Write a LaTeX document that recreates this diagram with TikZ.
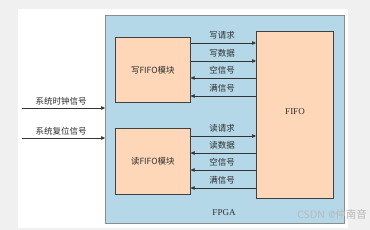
\documentclass[tikz,border=0pt]{standalone}
\usepackage{fontspec}
\setmainfont{Liberation Serif}
\newfontfamily\cjk{Noto Sans CJK SC}
\usetikzlibrary{arrows.meta}
\definecolor{fpgablue}{HTML}{B4D8E7}
\definecolor{peach}{HTML}{FDD7B8}
\definecolor{txt}{HTML}{2E2E2E}
\tikzset{
  blk/.style={draw=black!75, line width=0.6pt, fill=peach},
  sig/.style={draw=black!80, line width=0.6pt, -{Triangle[length=4pt,width=3.5pt]}},
  lbl/.style={text=txt, font=\cjk\fontsize{8.5}{9}\selectfont, inner sep=0pt},
}
\begin{document}
\begin{tikzpicture}[x=1pt,y=-1pt]
\useasboundingbox (0,0) rectangle (370,230);
\fill[black!6] (0,0) rectangle (370,230);
\fill[white] (18,9) rectangle (348,228);
\node[draw=black!45, line width=0.6pt, fill=fpgablue, minimum width=239pt, minimum height=208pt, anchor=north west, inner sep=0pt] (fpga) at (105,15) {};
\node[blk, minimum width=75pt, minimum height=65pt, anchor=north west, inner sep=0pt] (wr) at (115,37) {};
\node[lbl] at (wr.center) {写FIFO模块};
\node[blk, minimum width=75pt, minimum height=66pt, anchor=north west, inner sep=0pt] (rd) at (115,128) {};
\node[lbl] at (rd.center) {读FIFO模块};
\node[blk, minimum width=77pt, minimum height=167pt, anchor=north west, inner sep=0pt] (fifo) at (256,31) {};
\node[lbl, font=\fontsize{9}{10}\selectfont] at (295,112) {FIFO};
\node[lbl, font=\fontsize{9}{10}\selectfont] at (224,213) {FPGA};
% external inputs
\coordinate (c0) at (22,108);
\coordinate (r0) at (22,138);
\draw[sig] (c0) -- (fpga.west |- c0) node[lbl, pos=0.47, above=2.5pt] {系统时钟信号};
\draw[sig] (r0) -- (fpga.west |- r0) node[lbl, pos=0.47, above=2.5pt] {系统复位信号};
% signals between blocks
\foreach \y/\t/\d/\m in {43/写请求/1/wr, 61/写数据/1/wr, 78/空信号/0/wr, 96/满信号/0/wr, 136/读请求/1/rd, 153/读数据/0/rd, 170/空信号/0/rd, 188/满信号/0/rd}{
  \coordinate (a) at (\m.east |- 0,\y);
  \coordinate (b) at (fifo.west |- 0,\y);
  \ifnum\d=1
    \draw[sig] (a) -- (b);
  \else
    \draw[sig] (b) -- (a);
  \fi
  \node[lbl] at (222,\y-8) {\t};
}
\node[text=black!28, font=\fontsize{10.5}{11}\selectfont\sffamily, anchor=east, inner sep=0pt] at (367,214) {CSDN @{\cjk 仲南音}};
\end{tikzpicture}
\end{document}
